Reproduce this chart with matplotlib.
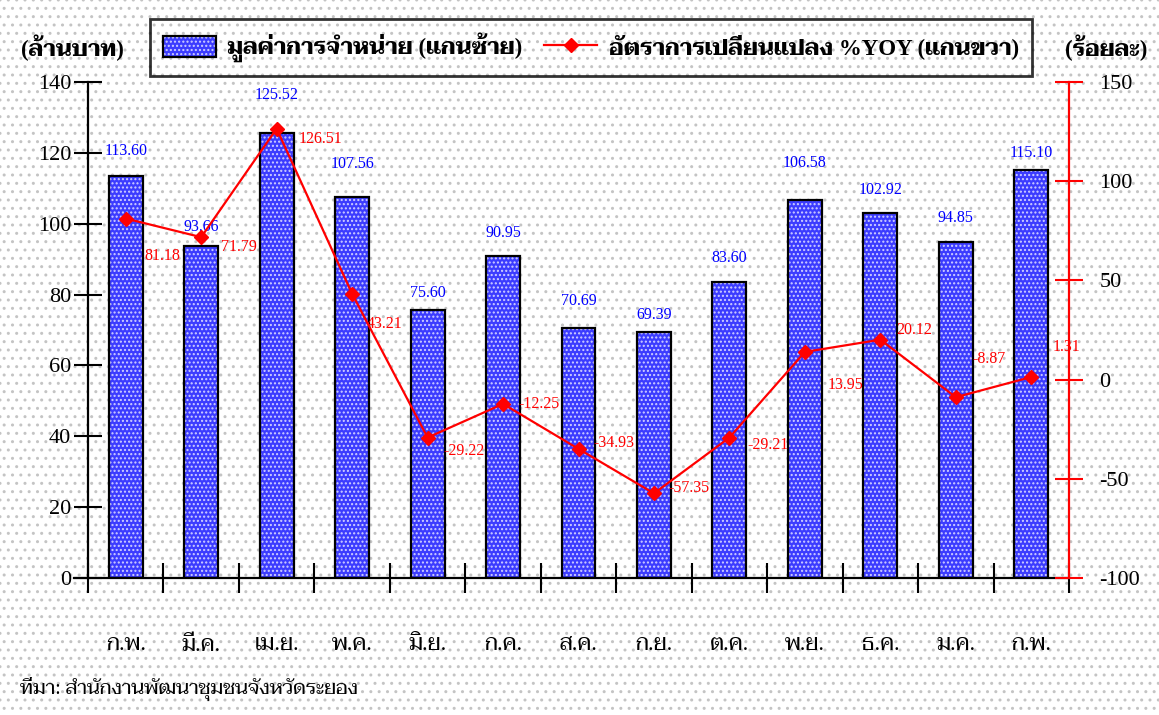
import matplotlib
matplotlib.use("Agg")
import matplotlib.pyplot as plt
from matplotlib import font_manager
from matplotlib.patches import Rectangle, Patch
from matplotlib.lines import Line2D
from matplotlib.legend_handler import HandlerTuple
import numpy as np

# data
months = ["ก.พ.", "มี.ค.", "เม.ย.", "พ.ค.", "มิ.ย.", "ก.ค.", "ส.ค.",
          "ก.ย.", "ต.ค.", "พ.ย.", "ธ.ค.", "ม.ค.", "ก.พ."]
sales = [113.60, 93.66, 125.52, 107.56, 75.60, 90.95, 70.69,
         69.39, 83.60, 106.58, 102.92, 94.85, 115.10]
yoy = [81.18, 71.79, 126.51, 43.21, -29.22, -12.25, -34.93,
       -57.35, -29.21, 13.95, 20.12, -8.87, 1.31]
left_ticks = [0, 20, 40, 60, 80, 100, 120, 140]
right_ticks = [-100, -50, 0, 50, 100, 150]

# label placement (pixels)
bar_label_dy = [25, 19, 38, 33, 17, 23, 27, 17, 24, 37, 23, 24, 17]
yoy_label_off = [(19, -37), (20, -10), (22, -10), (15, -30), (16, -13),
                 (15, 0), (15, 6), (14, 5), (18, -7), (23, -33),
                 (16, 10), (17, 38), (21, 30)]

families = {f.name for f in font_manager.fontManager.ttflist}
THAI = next((f for f in ["Taviraj", "Trirong", "Sarabun", "Noto Serif Thai",
                         "Noto Sans Thai", "Charm"] if f in families), "DejaVu Sans")
SERIF = "Liberation Serif"
MIX = [SERIF, THAI]

BAR_FACE = "#3c3cff"
BAR_DOTS = "#d0d0ff"

fig = plt.figure(figsize=(11.59, 7.15), dpi=100)
plt.rcParams["hatch.linewidth"] = 1.0

# dotted background
bg = Rectangle((0, 0), 1, 1, transform=fig.transFigure, facecolor="white",
               edgecolor="#c4c4c4", linewidth=0, hatch="..", zorder=-10)
fig.add_artist(bg)

ax = fig.add_axes([88 / 1159, 1 - 578 / 715, (1069 - 88) / 1159, (578 - 82) / 715])
ax.patch.set_alpha(0)
x = np.arange(len(months))

ax.bar(x, sales, width=0.45, color=BAR_FACE, edgecolor=BAR_DOTS,
       linewidth=0, hatch="....", zorder=2)
ax.bar(x, sales, width=0.45, fill=False, edgecolor="black", linewidth=1.6, zorder=3)
for xi, v, dy in zip(x, sales, bar_label_dy):
    ax.annotate(f"{v:.2f}", (xi, v), xytext=(0, dy * 0.72), textcoords="offset points",
                ha="center", va="center", color="#0000ff", fontsize=11.5, family=SERIF)

ax.set_xlim(-0.5, len(months) - 0.5)
ax.set_ylim(0, 140)
ax.set_yticks(left_ticks)
ax.set_yticklabels([str(t) for t in left_ticks], family=SERIF, fontsize=16)
ax.set_xticks(x)
ax.set_xticklabels(months, family=MIX, fontsize=16)
ax.set_xticks(np.arange(-0.5, len(months)), minor=True)
ax.tick_params(axis="x", which="major", length=0, pad=42)
ax.tick_params(axis="x", which="minor", length=22, width=1.5, direction="inout")
ax.tick_params(axis="y", length=20, width=1.5, direction="inout", pad=2)
for s in ["top", "right"]:
    ax.spines[s].set_visible(False)
ax.spines["left"].set_linewidth(1.6)
ax.spines["bottom"].set_linewidth(1.6)
ax.spines["bottom"].set_bounds(-0.68, len(months) - 0.5)

ax2 = ax.twinx()
ax2.patch.set_alpha(0)
ax2.plot(x, yoy, color="red", linewidth=1.6, marker="D", markersize=7, zorder=4)
for xi, v, (dx, dy) in zip(x, yoy, yoy_label_off):
    ax2.annotate(f"{v:.2f}", (xi, v), xytext=(dx * 0.72, dy * 0.72),
                 textcoords="offset points", ha="left", va="center",
                 color="red", fontsize=11.5, family=SERIF)
ax2.set_ylim(-100, 150)
ax2.set_yticks(right_ticks)
ax2.set_yticklabels([str(t) for t in right_ticks], family=SERIF, fontsize=16)
ax2.tick_params(axis="y", length=20, width=1.5, direction="inout", pad=12,
                color="red")
for s in ["top", "left", "bottom"]:
    ax2.spines[s].set_visible(False)
ax2.spines["right"].set_color("red")
ax2.spines["right"].set_linewidth(1.6)

fig.text(72 / 1159, 1 - 48 / 715, "(ล้านบาท)", family=MIX, fontsize=16.5,
         fontweight="bold", ha="center", va="center")
fig.text(1106 / 1159, 1 - 48 / 715, "(ร้อยละ)", family=MIX, fontsize=16.5,
         fontweight="bold", ha="center", va="center")
fig.text(20 / 1159, 1 - 688 / 715, "ที่มา: สำนักงานพัฒนาชุมชนจังหวัดระยอง",
         family=MIX, fontsize=14.5, ha="left", va="center")

h_bar = (Patch(facecolor=BAR_FACE, edgecolor=BAR_DOTS, linewidth=0, hatch="...."),
         Patch(fill=False, edgecolor="black", linewidth=1.6))
h_line = Line2D([], [], color="red", linewidth=1.6, marker="D", markersize=7)
leg = fig.legend([h_bar, h_line],
                 ["มูลค่าการจำหน่าย (แกนซ้าย)", "อัตราการเปลี่ยนแปลง %YOY (แกนขวา)"],
                 loc="center", bbox_to_anchor=(591 / 1159, 1 - 47.5 / 715), ncol=2,
                 prop={"family": MIX, "size": 16.5, "weight": "bold"},
                 handler_map={tuple: HandlerTuple(ndivide=1, pad=0)},
                 frameon=True, fancybox=False, edgecolor="black",
                 handlelength=2.3, handleheight=1.0, columnspacing=0.95,
                 borderpad=0.6, handletextpad=0.5, borderaxespad=0)
leg.get_frame().set_facecolor("none")
leg.get_frame().set_linewidth(2)

fig.savefig("out.png", dpi=100)
